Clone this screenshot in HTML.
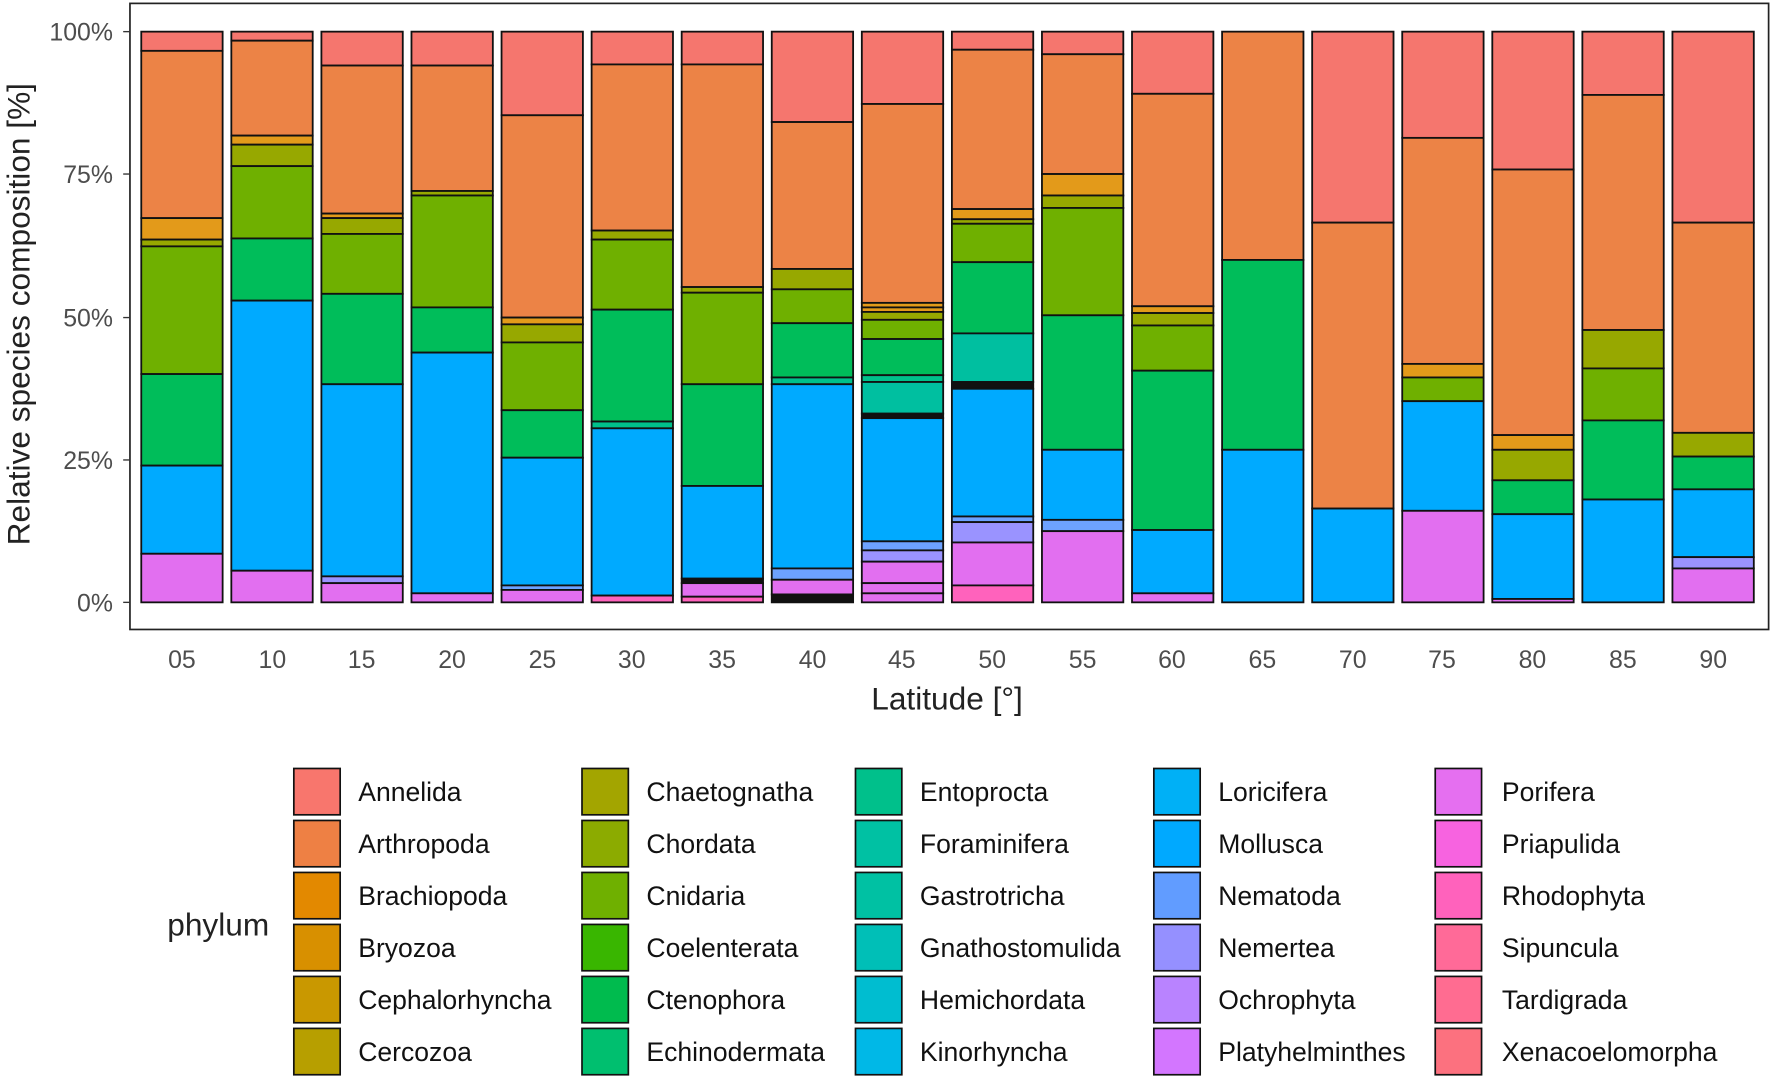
<!DOCTYPE html>
<html><head><meta charset="utf-8"><style>
html,body{margin:0;padding:0;background:#fff;}
svg{display:block;}
text{font-family:"Liberation Sans",Arial,sans-serif;}
</style></head><body>
<svg id="s" width="1772" height="1077" viewBox="0 0 1568 953" preserveAspectRatio="none" xmlns="http://www.w3.org/2000/svg">
<rect x="0" y="0" width="1568" height="953" fill="#fff"/>
<rect x="115" y="3" width="1450" height="554" fill="#fff" stroke="#222" stroke-width="1.5"/>
<g id="bars"></g>
<g fill="#4d4d4d" font-size="22" text-anchor="end">
<text x="100" y="36">100%</text><text x="100" y="162">75%</text><text x="100" y="289">50%</text><text x="100" y="415">25%</text><text x="100" y="541">0%</text>
</g>
<g stroke="#333" stroke-width="1.2"><line x1="109" y1="28" x2="115" y2="28"/><line x1="109" y1="154" x2="115" y2="154"/><line x1="109" y1="281" x2="115" y2="281"/><line x1="109" y1="407" x2="115" y2="407"/><line x1="109" y1="533" x2="115" y2="533"/></g>
<g id="xt" fill="#4d4d4d" font-size="22" text-anchor="middle">
<text x="161" y="591">05</text><text x="241" y="591">10</text><text x="320" y="591">15</text><text x="400" y="591">20</text><text x="480" y="591">25</text><text x="559" y="591">30</text><text x="639" y="591">35</text><text x="719" y="591">40</text><text x="798" y="591">45</text><text x="878" y="591">50</text><text x="958" y="591">55</text><text x="1037" y="591">60</text><text x="1117" y="591">65</text><text x="1197" y="591">70</text><text x="1276" y="591">75</text><text x="1356" y="591">80</text><text x="1436" y="591">85</text><text x="1516" y="591">90</text>
</g>
<text x="838" y="628" font-size="28" text-anchor="middle" fill="#222">Latitude [°]</text>
<text transform="translate(26,278) rotate(-90)" font-size="28" text-anchor="middle" fill="#222">Relative species composition [%]</text>
<text x="148" y="828" font-size="28" fill="#222">phylum</text>
<g id="leg" font-size="23.5" fill="#111">
<text x="317" y="709">Annelida</text><text x="317" y="755">Arthropoda</text><text x="317" y="801">Brachiopoda</text><text x="317" y="847">Bryozoa</text><text x="317" y="893">Cephalorhyncha</text><text x="317" y="939">Cercozoa</text>
<text x="572" y="709">Chaetognatha</text><text x="572" y="755">Chordata</text><text x="572" y="801">Cnidaria</text><text x="572" y="847">Coelenterata</text><text x="572" y="893">Ctenophora</text><text x="572" y="939">Echinodermata</text>
<text x="814" y="709">Entoprocta</text><text x="814" y="755">Foraminifera</text><text x="814" y="801">Gastrotricha</text><text x="814" y="847">Gnathostomulida</text><text x="814" y="893">Hemichordata</text><text x="814" y="939">Kinorhyncha</text>
<text x="1078" y="709">Loricifera</text><text x="1078" y="755">Mollusca</text><text x="1078" y="801">Nematoda</text><text x="1078" y="847">Nemertea</text><text x="1078" y="893">Ochrophyta</text><text x="1078" y="939">Platyhelminthes</text>
<text x="1329" y="709">Porifera</text><text x="1329" y="755">Priapulida</text><text x="1329" y="801">Rhodophyta</text><text x="1329" y="847">Sipuncula</text><text x="1329" y="893">Tardigrada</text><text x="1329" y="939">Xenacoelomorpha</text>
</g>
<g id="sw"></g>
</svg>
<script>
var cols=["#f8766d","#ee8044","#e38900","#d89000","#c99800","#b79f00","#a3a500","#8cab00","#6fb000","#39b600","#00bb4e","#00bf6f","#00c08b","#00c1a3","#00bfb7","#00bdd0","#00b8e7","#00b0f6","#00a9ff","#619cff","#9590ff","#b983ff","#d376ff","#e56ff0","#f763e0","#ff62bc","#ff6a98","#ff6c91","#fc717f"];
var ns="http://www.w3.org/2000/svg";
var sw=document.getElementById('sw');
var xs=[260,515,757,1021,1270];
for(var c=0;c<5;c++)for(var r=0;r<6;r++){var i=c*6+r;var ci=[0,1,2,3,4,5,6,7,8,9,10,11,12,13,13,14,15,16,17,18,19,20,21,22,23,24,25,26,27,28][i];
var e=document.createElementNS(ns,'rect');e.setAttribute('x',xs[c]);e.setAttribute('y',680+r*46);e.setAttribute('width',41);e.setAttribute('height',41);e.setAttribute('fill',cols[ci]);e.setAttribute('stroke','#111');e.setAttribute('stroke-width','1.5');sw.appendChild(e);}
var A="#f5766e",R="#ec8346",O="#e39a1a",CH="#97a800",CN="#6fb000",EC="#00bd5a",EN="#00c08b",GA="#00bfa0",MO="#00aaff",NE="#6da2ff",NM="#9a93ff",PO="#e26ff0",RH="#ff62bc",K="#111";
var data=[
[[28,45,A],[45,193,R],[193,212,O],[212,218,CH],[218,331,CN],[331,412,EC],[412,490,MO],[490,533,PO]],
[[28,36,A],[36,120,R],[120,128,O],[128,147,CH],[147,211,CN],[211,266,EC],[266,505,MO],[505,533,PO]],
[[28,58,A],[58,189,R],[189,193,O],[193,207,CH],[207,260,CN],[260,340,EC],[340,510,MO],[510,516,NM],[516,533,PO]],
[[28,58,A],[58,169,R],[169,173,CH],[173,272,CN],[272,312,EC],[312,525,MO],[525,533,PO]],
[[28,102,A],[102,281,R],[281,287,O],[287,303,CH],[303,363,CN],[363,405,EC],[405,518,MO],[518,522,NE],[522,533,PO]],
[[28,57,A],[57,204,R],[204,212,CH],[212,274,CN],[274,373,EC],[373,379,EN],[379,527,MO],[527,533,RH]],
[[28,57,A],[57,254,R],[254,259,CH],[259,340,CN],[340,430,EC],[430,512,MO],[512,516,K],[516,528,PO],[528,533,RH]],
[[28,108,A],[108,238,R],[238,256,CH],[256,286,CN],[286,334,EC],[334,340,EN],[340,503,MO],[503,513,NE],[513,526,PO],[526,533,K]],
[[28,92,A],[92,268,R],[268,272,O],[272,276,O],[276,283,CH],[283,300,CN],[300,332,EC],[332,338,EN],[338,366,GA],[366,370,K],[370,479,MO],[479,487,NE],[487,497,NM],[497,516,PO],[516,525,PO],[525,533,PO]],
[[28,44,A],[44,185,R],[185,194,O],[194,198,CH],[198,232,CN],[232,295,EC],[295,338,GA],[338,344,K],[344,457,MO],[457,462,NE],[462,480,NM],[480,518,PO],[518,533,RH]],
[[28,48,A],[48,154,R],[154,173,O],[173,184,CH],[184,279,CN],[279,398,EC],[398,460,MO],[460,470,NE],[470,533,PO]],
[[28,83,A],[83,271,R],[271,277,O],[277,288,CH],[288,328,CN],[328,469,EC],[469,525,MO],[525,533,PO]],
[[28,230,R],[230,398,EC],[398,533,MO]],
[[28,197,A],[197,450,R],[450,533,MO]],
[[28,122,A],[122,322,R],[322,334,O],[334,355,CN],[355,452,MO],[452,533,PO]],
[[28,150,A],[150,385,R],[385,398,O],[398,425,CH],[425,455,EC],[455,530,MO],[530,533,PO]],
[[28,84,A],[84,292,R],[292,326,CH],[326,372,CN],[372,442,EC],[442,533,MO]],
[[28,197,A],[197,383,R],[383,404,CH],[404,433,EC],[433,493,MO],[493,503,NM],[503,533,PO]]];
var g=document.getElementById('bars');
for(var b=0;b<18;b++){var cx=161+b*79.7;data[b].forEach(function(s){var e=document.createElementNS(ns,'rect');e.setAttribute('x',cx-36);e.setAttribute('y',s[0]);e.setAttribute('width',72);e.setAttribute('height',s[1]-s[0]);e.setAttribute('fill',s[2]);e.setAttribute('stroke','#111');e.setAttribute('stroke-width','1.6');g.appendChild(e);});}
</script>
</body></html>
